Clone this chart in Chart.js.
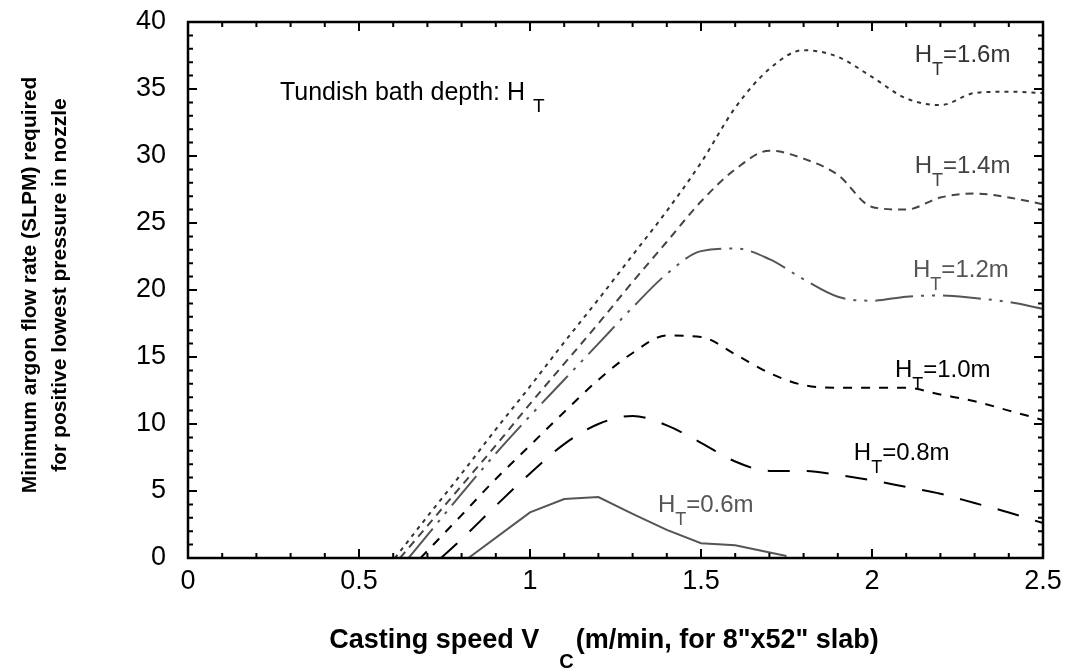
<!DOCTYPE html>
<html>
<head>
<meta charset="utf-8">
<script src="https://cdn.jsdelivr.net/npm/chart.js@4.4.0/dist/chart.umd.min.js"></script>
<style>
  html, body { margin: 0; padding: 0; background: #fff; }
  #wrap { width: 1069px; height: 671px; }
</style>
</head>
<body>
<div id="wrap"><canvas id="argonChart" width="1069" height="671"></canvas></div>
<script>
// casting speed (m/min) and minimum argon flow (SLPM) per tundish depth
const speed06 = [0.82, 1.0, 1.1, 1.2, 1.3, 1.4, 1.5, 1.6, 1.75];
const flow06 = [0, 3.4, 4.4, 4.55, 3.3, 2.1, 1.1, 0.95, 0.15];

const speed08 = [0.74, 0.8, 0.9, 1.0, 1.1, 1.2, 1.3, 1.4, 1.5, 1.6, 1.7, 1.8, 1.9, 2.0, 2.1, 2.2, 2.3, 2.4, 2.5];
const flow08 = [0, 1.4, 3.9, 6.3, 8.5, 10.0, 10.6, 9.9, 8.6, 7.2, 6.5, 6.5, 6.2, 5.8, 5.3, 4.8, 4.1, 3.4, 2.6];

const speed10 = [0.68, 0.8, 0.9, 1.0, 1.1, 1.2, 1.3, 1.4, 1.5, 1.6, 1.7, 1.8, 1.9, 2.0, 2.1, 2.2, 2.3, 2.4, 2.5];
const flow10 = [0, 3.2, 5.9, 8.4, 10.9, 13.3, 15.3, 16.6, 16.5, 15.2, 13.8, 12.9, 12.7, 12.7, 12.7, 12.2, 11.7, 11.0, 10.3];

const speed12 = [0.645, 0.7, 0.8, 0.9, 1.0, 1.1, 1.2, 1.3, 1.4, 1.5, 1.6, 1.7, 1.8, 1.9, 2.0, 2.1, 2.2, 2.3, 2.4, 2.5];
const flow12 = [0, 1.7, 4.8, 7.8, 10.6, 13.3, 16.0, 18.7, 21.2, 22.9, 23.1, 22.3, 20.8, 19.5, 19.2, 19.5, 19.6, 19.4, 19.1, 18.6];

const speed14 = [0.62, 0.7, 0.8, 0.9, 1.0, 1.1, 1.2, 1.3, 1.4, 1.5, 1.6, 1.7, 1.8, 1.9, 2.0, 2.1, 2.2, 2.3, 2.4, 2.5];
const flow14 = [0, 2.4, 5.4, 8.4, 11.5, 14.5, 17.5, 20.6, 23.6, 26.6, 29.0, 30.4, 29.8, 28.6, 26.2, 26.0, 26.9, 27.2, 26.9, 26.4];

const speed16 = [0.605, 0.7, 0.8, 0.9, 1.0, 1.1, 1.2, 1.3, 1.4, 1.5, 1.6, 1.7, 1.8, 1.9, 2.0, 2.1, 2.2, 2.3, 2.4, 2.5];
const flow16 = [0, 3.1, 6.3, 9.6, 12.8, 16.1, 19.3, 22.6, 25.9, 29.5, 33.6, 36.5, 37.9, 37.4, 35.9, 34.3, 33.8, 34.7, 34.8, 34.7];

// tick labels
const xTickLabels = ['0', '0.5', '1', '1.5', '2', '2.5'];
const yTickLabels = ['0', '5', '10', '15', '20', '25', '30', '35', '40'];

// curve labels: depth text and where it sits (data coords, left / baseline)
const depthLabels = ['1.6m', '1.4m', '1.2m', '1.0m', '0.8m', '0.6m'];
const labelAt = [[2.125, 37.0], [2.125, 28.75], [2.12, 21.0], [2.067, 13.5], [1.947, 7.3], [1.374, 3.45]];
const labelColors = ['#333', '#444', '#555', '#000', '#000', '#555'];

const FONT = '"Liberation Sans", Arial, Helvetica, sans-serif';

function pts(xs, ys) {
    return xs.map((x, i) => ({ x: x, y: ys[i] }));
}

const frameAndText = {
    id: 'frameAndText',
    afterDraw(chart) {
        const { ctx, chartArea: a, scales } = chart;
        const x = scales.x, y = scales.y;
        ctx.save();

        // box
        ctx.strokeStyle = '#000';
        ctx.lineWidth = 2.5;
        ctx.strokeRect(a.left, a.top, a.right - a.left, a.bottom - a.top);

        // inward ticks on all four sides
        ctx.lineWidth = 2;
        ctx.beginPath();
        for (let i = 0; i <= 25; i++) {
            const px = x.getPixelForValue(i / 10);
            const len = i % 5 === 0 ? 9 : 5;
            ctx.moveTo(px, a.bottom); ctx.lineTo(px, a.bottom - len);
            ctx.moveTo(px, a.top); ctx.lineTo(px, a.top + len);
        }
        for (let i = 0; i <= 40; i++) {
            const py = y.getPixelForValue(i);
            const len = i % 5 === 0 ? 9 : 5;
            ctx.moveTo(a.left, py); ctx.lineTo(a.left + len, py);
            ctx.moveTo(a.right, py); ctx.lineTo(a.right - len, py);
        }
        ctx.stroke();

        // curve labels H_T=...
        ctx.textBaseline = 'alphabetic';
        ctx.textAlign = 'left';
        depthLabels.forEach((txt, i) => {
            const lx = x.getPixelForValue(labelAt[i][0]);
            const ly = y.getPixelForValue(labelAt[i][1]);
            ctx.fillStyle = labelColors[i];
            ctx.font = '24px ' + FONT;
            ctx.fillText('H', lx, ly);
            const wH = ctx.measureText('H').width;
            ctx.font = '18px ' + FONT;
            ctx.fillText('T', lx + wH, ly + 13);
            const wT = ctx.measureText('T').width;
            ctx.font = '24px ' + FONT;
            ctx.fillText('=' + txt, lx + wH + wT, ly);
        });

        // legend note
        ctx.fillStyle = '#000';
        ctx.font = '25px ' + FONT;
        ctx.textAlign = 'right';
        ctx.fillText('Tundish bath depth: H', 525, 100);
        ctx.textAlign = 'left';
        ctx.font = '19px ' + FONT;
        ctx.fillText('T', 533, 112);

        // x title with subscript
        ctx.fillStyle = '#000';
        const part1 = 'Casting speed V';
        const part2 = '(m/min, for 8"x52" slab)';
        ctx.font = 'bold 27px ' + FONT;
        const w1 = ctx.measureText(part1).width;
        const w2 = ctx.measureText(part2).width;
        ctx.font = 'bold 20px ' + FONT;
        const wc = ctx.measureText('C').width;
        const gap = 20;
        const total = w1 + gap + wc + w2;
        let tx = 603 - total / 2;
        ctx.font = 'bold 27px ' + FONT;
        ctx.fillText(part1, tx, 648);
        tx += w1 + gap;
        ctx.font = 'bold 20px ' + FONT;
        ctx.fillText('C', tx, 668);
        tx += wc + 2;
        ctx.font = 'bold 27px ' + FONT;
        ctx.fillText(part2, tx, 648);

        // y title, two lines rotated
        ctx.save();
        ctx.translate(0, 285);
        ctx.rotate(-Math.PI / 2);
        ctx.textAlign = 'center';
        ctx.font = 'bold 21px ' + FONT;
        ctx.fillText('Minimum argon flow rate (SLPM) required', 0, 36);
        ctx.fillText('for positive lowest pressure in nozzle', 0, 66);
        ctx.restore();

        ctx.restore();
    }
};

const ctx = document.getElementById('argonChart').getContext('2d');
new Chart(ctx, {
    type: 'line',
    data: {
        datasets: [
            { label: 'HT=1.6m', data: pts(speed16, flow16), borderColor: '#333', borderDash: [4, 5], cubicInterpolationMode: 'monotone' },
            { label: 'HT=1.4m', data: pts(speed14, flow14), borderColor: '#444', borderDash: [8, 6], cubicInterpolationMode: 'monotone' },
            { label: 'HT=1.2m', data: pts(speed12, flow12), borderColor: '#555', borderDash: [38, 8, 3, 8, 3, 8], cubicInterpolationMode: 'monotone' },
            { label: 'HT=1.0m', data: pts(speed10, flow10), borderColor: '#000', borderDash: [9, 9], cubicInterpolationMode: 'monotone' },
            { label: 'HT=0.8m', data: pts(speed08, flow08), borderColor: '#000', borderDash: [22, 17], cubicInterpolationMode: 'monotone' },
            { label: 'HT=0.6m', data: pts(speed06, flow06), borderColor: '#555', tension: 0 },
        ]
    },
    options: {
        responsive: false,
        animation: false,
        layout: { padding: { top: 22, right: 26, left: 0, bottom: 0 } },
        elements: {
            point: { radius: 0 },
            line: { borderWidth: 2, fill: false }
        },
        plugins: {
            legend: { display: false },
            tooltip: { enabled: false }
        },
        scales: {
            x: {
                type: 'linear',
                min: 0,
                max: 2.5,
                grid: { display: false, drawTicks: false },
                border: { display: false },
                afterBuildTicks: (scale) => {
                    scale.ticks = xTickLabels.map(v => ({ value: parseFloat(v) }));
                },
                ticks: {
                    padding: 7,
                    color: '#000',
                    font: { size: 27, family: FONT },
                    callback: (v) => String(v)
                },
                afterFit: (scale) => {
                    scale.height = 113;
                    scale.paddingLeft = 0;
                    scale.paddingRight = 0;
                }
            },
            y: {
                type: 'linear',
                min: 0,
                max: 40,
                grid: { display: false, drawTicks: false },
                border: { display: false },
                afterBuildTicks: (scale) => {
                    scale.ticks = yTickLabels.map(v => ({ value: parseFloat(v) }));
                },
                ticks: {
                    padding: 22,
                    color: '#000',
                    font: { size: 27, family: FONT },
                    callback: (v) => String(v)
                },
                afterFit: (scale) => {
                    scale.width = 188;
                    scale.paddingTop = 0;
                    scale.paddingBottom = 0;
                }
            }
        }
    },
    plugins: [frameAndText]
});
</script>
</body>
</html>
